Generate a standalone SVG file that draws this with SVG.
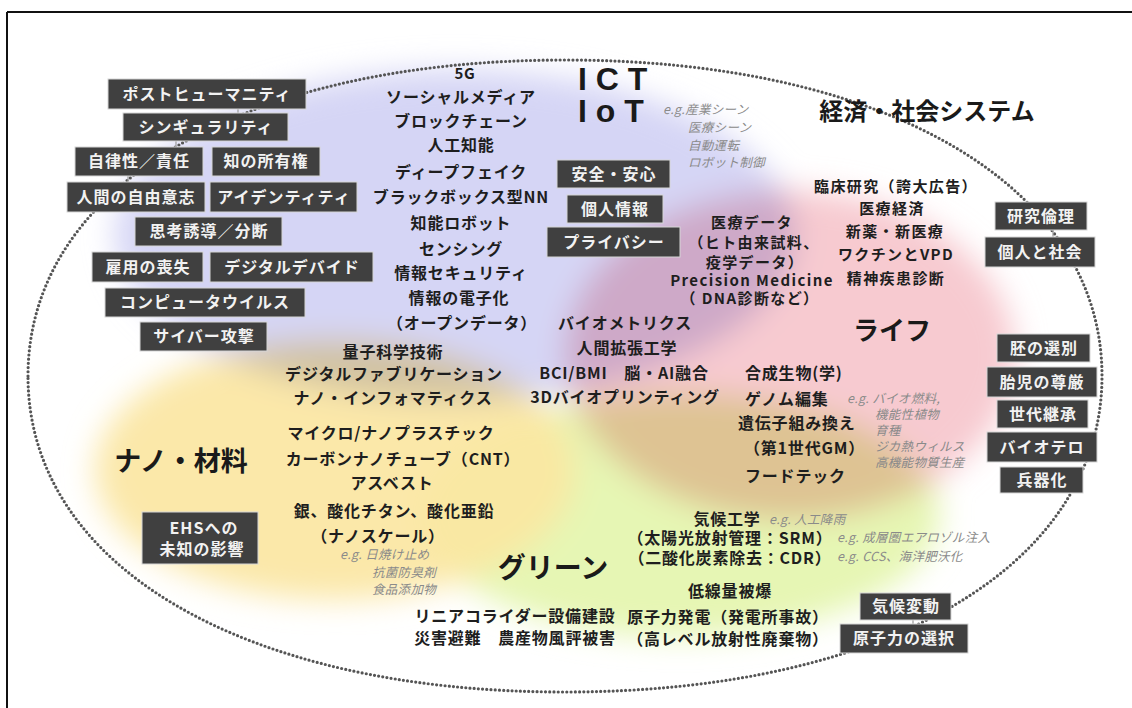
<svg xmlns="http://www.w3.org/2000/svg" width="1132" height="708" viewBox="0 0 1132 708">
<style>
text{font-family:"Noto Sans CJK JP","Noto Sans CJK SC","Liberation Sans",sans-serif}
.t{font-size:16px;font-weight:bold;fill:#1e1e1e;text-anchor:middle;letter-spacing:0.8px}
.m{font-size:15px;letter-spacing:1.4px}
.s{text-anchor:start}
.h{font-weight:bold;fill:#1a1a1a;text-anchor:middle}
.eg{font-size:12.5px;font-style:italic;fill:#8a8a8a;letter-spacing:0.3px}
.bx rect{fill:#404040;stroke:#d6d6d6;stroke-width:1}
.bx text{font-size:16px;font-weight:bold;fill:#f2f2f2;text-anchor:middle;letter-spacing:1px}
.lat{font-family:"Liberation Sans","Noto Sans",sans-serif;font-size:32px;font-weight:bold;fill:#1a1a1a}
</style>
<defs>
<filter id="blur" x="-30%" y="-30%" width="160%" height="160%"><feGaussianBlur stdDeviation="15"/></filter>
</defs>
<rect x="0" y="0" width="1132" height="708" fill="#ffffff"/>
<g id="frame" stroke="#111" stroke-width="2" fill="none">
<line x1="7" y1="12" x2="1132" y2="12"/>
<line x1="7" y1="12" x2="7" y2="708"/>
</g>
<g id="blobs" filter="url(#blur)" style="isolation:isolate">
<ellipse cx="680" cy="515" rx="260" ry="122" fill="#e6f6b4"/>
<ellipse cx="335" cy="470" rx="240" ry="130" fill="#fbe6a2" opacity="0.92"/>
<ellipse cx="455" cy="235" rx="340" ry="165" fill="#d5d5f5" style="mix-blend-mode:multiply"/>
<ellipse cx="790" cy="355" rx="225" ry="165" fill="#f7cad0" style="mix-blend-mode:multiply"/>
</g>
<g id="connectors" fill="none">
<path id="boundary" d="M 28,376 C 28,186.4 242.8,60 565,60 C 887.2,60 1102,186.4 1102,376 C 1102,565.6 887.2,692 565,692 C 242.8,692 28,565.6 28,376 Z" stroke="#555" stroke-width="3.2" stroke-dasharray="0 4.2" stroke-linecap="round"/>
<g stroke="#9a9a9a" stroke-width="1.2">
<line x1="238" y1="109" x2="238" y2="113"/>
<line x1="176" y1="141" x2="176" y2="147"/>
<line x1="128" y1="176" x2="128" y2="182"/>
<line x1="1053" y1="230" x2="1053" y2="237"/>
<line x1="913" y1="620" x2="913" y2="624"/>
</g>
</g>
<g id="node-postHumanity" class="bx"><rect x="108" y="79" width="198" height="30"/><text x="207" y="100">ポストヒューマニティ</text></g>
<g id="node-singularity" class="bx"><rect x="123" y="113" width="165" height="28"/><text x="206" y="133">シンギュラリティ</text></g>
<g id="node-autonomy" class="bx"><rect x="75" y="147" width="128" height="29"/><text x="139" y="167">自律性／責任</text></g>
<g id="node-ip" class="bx"><rect x="212" y="147" width="108" height="29"/><text x="266" y="167">知の所有権</text></g>
<g id="node-freeWill" class="bx"><rect x="67" y="182" width="138" height="30"/><text x="136" y="203">人間の自由意志</text></g>
<g id="node-identity" class="bx"><rect x="210" y="182" width="147" height="30"/><text x="284" y="203">アイデンティティ</text></g>
<g id="node-thought" class="bx"><rect x="135" y="217" width="147" height="29"/><text x="209" y="237">思考誘導／分断</text></g>
<g id="node-jobs" class="bx"><rect x="92" y="252" width="111" height="30"/><text x="148" y="273">雇用の喪失</text></g>
<g id="node-divide" class="bx"><rect x="210" y="252" width="163" height="30"/><text x="292" y="273">デジタルデバイド</text></g>
<g id="node-virus" class="bx"><rect x="105" y="288" width="200" height="29"/><text x="205" y="308">コンピュータウイルス</text></g>
<g id="node-cyber" class="bx"><rect x="140" y="322" width="127" height="29"/><text x="204" y="342">サイバー攻撃</text></g>
<g id="node-safety" class="bx"><rect x="557" y="160" width="113" height="28"/><text x="614" y="180">安全・安心</text></g>
<g id="node-personalInfo" class="bx"><rect x="567" y="195" width="96" height="28"/><text x="615" y="215">個人情報</text></g>
<g id="node-privacy" class="bx"><rect x="547" y="227" width="133" height="30"/><text x="614" y="248">プライバシー</text></g>
<g id="node-ethics" class="bx"><rect x="995" y="202" width="92" height="28"/><text x="1041" y="222">研究倫理</text></g>
<g id="node-individual" class="bx"><rect x="985" y="237" width="110" height="30"/><text x="1040" y="258">個人と社会</text></g>
<g id="node-embryo" class="bx"><rect x="997" y="334" width="93" height="28"/><text x="1044" y="354">胚の選別</text></g>
<g id="node-fetus" class="bx"><rect x="987" y="367" width="110" height="30"/><text x="1042" y="388">胎児の尊厳</text></g>
<g id="node-generation" class="bx"><rect x="997" y="400" width="91" height="28"/><text x="1043" y="420">世代継承</text></g>
<g id="node-bioterror" class="bx"><rect x="987" y="432" width="110" height="30"/><text x="1042" y="453">バイオテロ</text></g>
<g id="node-weapon" class="bx"><rect x="1000" y="467" width="83" height="26"/><text x="1042" y="486">兵器化</text></g>
<g id="node-ehs" class="bx"><rect x="142" y="512" width="116" height="52"/><text x="204" y="534">EHSへの</text><text x="202" y="555">未知の影響</text></g>
<g id="node-climate" class="bx"><rect x="860" y="593" width="91" height="27"/><text x="906" y="612">気候変動</text></g>
<g id="node-nuclearChoice" class="bx"><rect x="840" y="624" width="128" height="29"/><text x="904" y="644">原子力の選択</text></g>
<g id="titles">
<text class="lat" x="578" y="90">I C T</text>
<text class="lat" x="578" y="122">I o T</text>
<text class="h" x="927" y="120" style="font-size:24px">経済・社会システム</text>
<text class="h" x="892" y="340" style="font-size:26px">ライフ</text>
<text class="h" x="181" y="471" style="font-size:27px">ナノ・材料</text>
<text class="h" x="553" y="578" style="font-size:28px">グリーン</text>
</g>
<g id="ict-items">
<text class="t" x="465" y="79" style="font-size:15px">5G</text>
<text class="t" x="461" y="103">ソーシャルメディア</text>
<text class="t" x="461" y="127">ブロックチェーン</text>
<text class="t" x="461" y="151">人工知能</text>
<text class="t" x="461" y="178">ディープフェイク</text>
<text class="t" x="461" y="203">ブラックボックス型NN</text>
<text class="t" x="461" y="229">知能ロボット</text>
<text class="t" x="461" y="255">センシング</text>
<text class="t" x="461" y="279">情報セキュリティ</text>
<text class="t" x="459" y="304">情報の電子化</text>
<text class="t" x="462" y="329">（オープンデータ）</text>
<text class="eg" x="663" y="114">e.g.産業シーン</text>
<text class="eg" x="688" y="132">医療シーン</text>
<text class="eg" x="688" y="150">自動運転</text>
<text class="eg" x="688" y="167">ロボット制御</text>
</g>
<g id="medical-items">
<text class="t m" x="752" y="228">医療データ</text>
<text class="t m" x="754" y="248">（ヒト由来試料、</text>
<text class="t m" x="755" y="268">疫学データ）</text>
<text class="t m" x="752" y="286">Precision Medicine</text>
<text class="t m" x="750" y="304">（ DNA診断など）</text>
<text class="t m" x="896" y="192">臨床研究（誇大広告）</text>
<text class="t m" x="892" y="214">医療経済</text>
<text class="t m" x="895" y="237">新薬・新医療</text>
<text class="t m" x="896" y="260">ワクチンとVPD</text>
<text class="t m" x="896" y="284">精神疾患診断</text>
</g>
<g id="bio-items">
<text class="t" x="625" y="329">バイオメトリクス</text>
<text class="t" x="627" y="354">人間拡張工学</text>
<text class="t" x="624" y="379">BCI/BMI　脳・AI融合</text>
<text class="t" x="625" y="403">3Dバイオプリンティング</text>
<text class="t s" x="745" y="379">合成生物(学)</text>
<text class="t s" x="745" y="405">ゲノム編集</text>
<text class="t s" x="738" y="429">遺伝子組み換え</text>
<text class="t s" x="744" y="454">（第1世代GM）</text>
<text class="t s" x="745" y="482">フードテック</text>
<text class="eg" x="847" y="403">e.g. バイオ燃料,</text>
<text class="eg" x="875" y="419">機能性植物</text>
<text class="eg" x="875" y="435">育種</text>
<text class="eg" x="875" y="451">ジカ熱ウィルス</text>
<text class="eg" x="875" y="467">高機能物質生産</text>
</g>
<g id="nano-items">
<text class="t" x="393" y="358">量子科学技術</text>
<text class="t" x="394" y="380">デジタルファブリケーション</text>
<text class="t" x="393" y="404">ナノ・インフォマティクス</text>
<text class="t" x="391" y="439">マイクロ/ナノプラスチック</text>
<text class="t" x="403" y="465">カーボンナノチューブ（CNT）</text>
<text class="t" x="392" y="489">アスベスト</text>
<text class="t" x="394" y="517">銀、酸化チタン、酸化亜鉛</text>
<text class="t" x="378" y="542">（ナノスケール）</text>
<text class="eg" x="340" y="559">e.g. 日焼け止め</text>
<text class="eg" x="372" y="577">抗菌防臭剤</text>
<text class="eg" x="372" y="594">食品添加物</text>
</g>
<g id="green-items">
<text class="t" x="727" y="525">気候工学</text>
<text class="t" x="730" y="544">（太陽光放射管理：SRM）</text>
<text class="t" x="730" y="564">（二酸化炭素除去：CDR）</text>
<text class="t" x="730" y="597">低線量被爆</text>
<text class="t" x="515" y="622">リニアコライダー設備建設</text>
<text class="t" x="515" y="644">災害避難　農産物風評被害</text>
<text class="t" x="728" y="623">原子力発電（発電所事故）</text>
<text class="t" x="728" y="645">（高レベル放射性廃棄物）</text>
<text class="eg" x="769" y="524">e.g. 人工降雨</text>
<text class="eg" x="837" y="542">e.g. 成層圏エアロゾル注入</text>
<text class="eg" x="837" y="561">e.g. CCS、海洋肥沃化</text>
</g>
</svg>
